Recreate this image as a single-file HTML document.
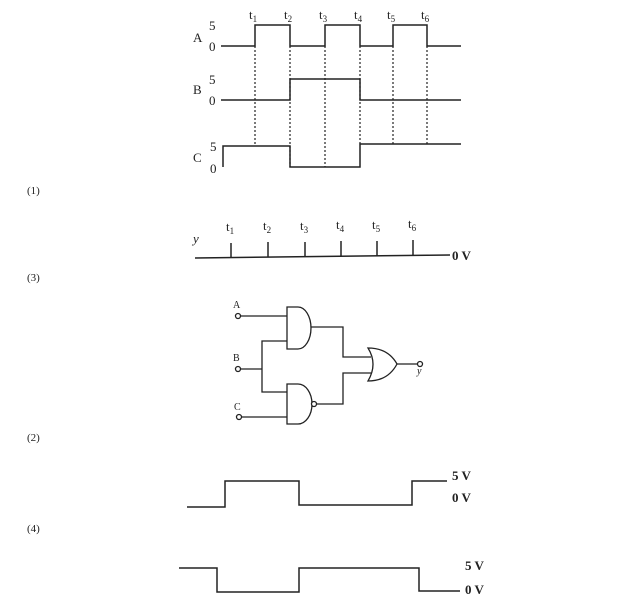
<!DOCTYPE html>
<html><head><meta charset="utf-8"><style>
body{margin:0;background:#fff;width:627px;height:604px;overflow:hidden}
svg{display:block}
text{font-family:"Liberation Serif",serif;fill:#222}
</style></head><body>
<svg width="627" height="604" viewBox="0 0 627 604" xmlns="http://www.w3.org/2000/svg">
<g stroke="#222" stroke-width="1.5" fill="none">
<!-- A -->
<polyline points="221,46 255,46 255,25 290,25 290,46 325,46 325,25 360,25 360,46 393,46 393,25 427,25 427,46 461,46"/>
<!-- B -->
<polyline points="221,100 290,100 290,79 360,79 360,100 461,100"/>
<!-- C -->
<polyline points="223,167 223,146 290,146 290,167 360,167 360,144 461,144"/>
</g>
<g stroke="#222" stroke-width="1.2" stroke-dasharray="2,2">
<line x1="255" y1="46" x2="255" y2="146"/>
<line x1="290" y1="46" x2="290" y2="167"/>
<line x1="325" y1="46" x2="325" y2="167"/>
<line x1="360" y1="46" x2="360" y2="144"/>
<line x1="393" y1="46" x2="393" y2="144"/>
<line x1="427" y1="46" x2="427" y2="144"/>
</g>
<g font-size="13">
<text x="193" y="42">A</text><text x="209" y="30">5</text><text x="209" y="51">0</text>
<text x="193" y="94">B</text><text x="209" y="84">5</text><text x="209" y="105">0</text>
<text x="193" y="162">C</text><text x="210" y="151">5</text><text x="210" y="173">0</text>
<text x="249" y="19">t<tspan font-size="9" dy="3">1</tspan></text>
<text x="284" y="19">t<tspan font-size="9" dy="3">2</tspan></text>
<text x="319" y="19">t<tspan font-size="9" dy="3">3</tspan></text>
<text x="354" y="19">t<tspan font-size="9" dy="3">4</tspan></text>
<text x="387" y="19">t<tspan font-size="9" dy="3">5</tspan></text>
<text x="421" y="19">t<tspan font-size="9" dy="3">6</tspan></text>
</g>
<g font-size="11">
<text x="27" y="194">(1)</text><text x="27" y="281">(3)</text>
<text x="27" y="441">(2)</text><text x="27" y="532">(4)</text>
</g>
<!-- timeline -->
<g stroke="#222" stroke-width="1.5" fill="none">
<line x1="195" y1="258" x2="450" y2="255"/>
<line x1="231" y1="258" x2="231" y2="243"/>
<line x1="268" y1="257" x2="268" y2="242"/>
<line x1="305" y1="257" x2="305" y2="242"/>
<line x1="341" y1="256" x2="341" y2="241"/>
<line x1="377" y1="256" x2="377" y2="241"/>
<line x1="413" y1="255" x2="413" y2="240"/>
</g>
<g font-size="13">
<text x="193" y="243" font-style="italic">y</text>
<text x="226" y="231">t<tspan font-size="9" dy="3">1</tspan></text>
<text x="263" y="230">t<tspan font-size="9" dy="3">2</tspan></text>
<text x="300" y="230">t<tspan font-size="9" dy="3">3</tspan></text>
<text x="336" y="229">t<tspan font-size="9" dy="3">4</tspan></text>
<text x="372" y="229">t<tspan font-size="9" dy="3">5</tspan></text>
<text x="408" y="228">t<tspan font-size="9" dy="3">6</tspan></text>
<text x="452" y="260" font-weight="bold">0 V</text>
</g>
<!-- circuit -->
<g stroke="#222" stroke-width="1.3" fill="none">
<circle cx="238" cy="316" r="2.5"/><circle cx="238" cy="369" r="2.5"/><circle cx="239" cy="417" r="2.5"/>
<line x1="241" y1="316" x2="287" y2="316"/>
<line x1="241" y1="369" x2="262" y2="369"/>
<polyline points="287,341 262,341 262,392 287,392"/>
<line x1="242" y1="417" x2="287" y2="417"/>
<path d="M287,307 L298,307 A13,21 0 0 1 298,349 L287,349 Z" fill="#fff"/>
<path d="M287,384 L298,384 A14,20 0 0 1 298,424 L287,424 Z" fill="#fff"/>
<circle cx="314" cy="404" r="2.5" fill="#fff"/>
<polyline points="311,327 343,327 343,357 371,357"/>
<polyline points="317,404 343,404 343,373 371,373"/>
<path d="M368,348 Q388,348 397,364 Q388,381 368,381 Q378,364 368,348 Z" fill="#fff"/>
<line x1="397" y1="364" x2="418" y2="364"/>
<circle cx="420" cy="364" r="2.5"/>
</g>
<g font-size="10">
<text x="233" y="308">A</text><text x="233" y="361">B</text><text x="234" y="410">C</text>
<text x="417" y="374" font-style="italic">y</text>
</g>
<!-- waveform (2) -->
<g stroke="#222" stroke-width="1.5" fill="none">
<polyline points="187,507 225,507 225,481 299,481 299,505 412,505 412,481 447,481"/>
<polyline points="179,568 217,568 217,592 299,592 299,568 419,568 419,591 460,591"/>
</g>
<g font-size="13" font-weight="bold">
<text x="452" y="480">5 V</text><text x="452" y="502">0 V</text>
<text x="465" y="570">5 V</text><text x="465" y="594">0 V</text>
</g>
</svg>
</body></html>
